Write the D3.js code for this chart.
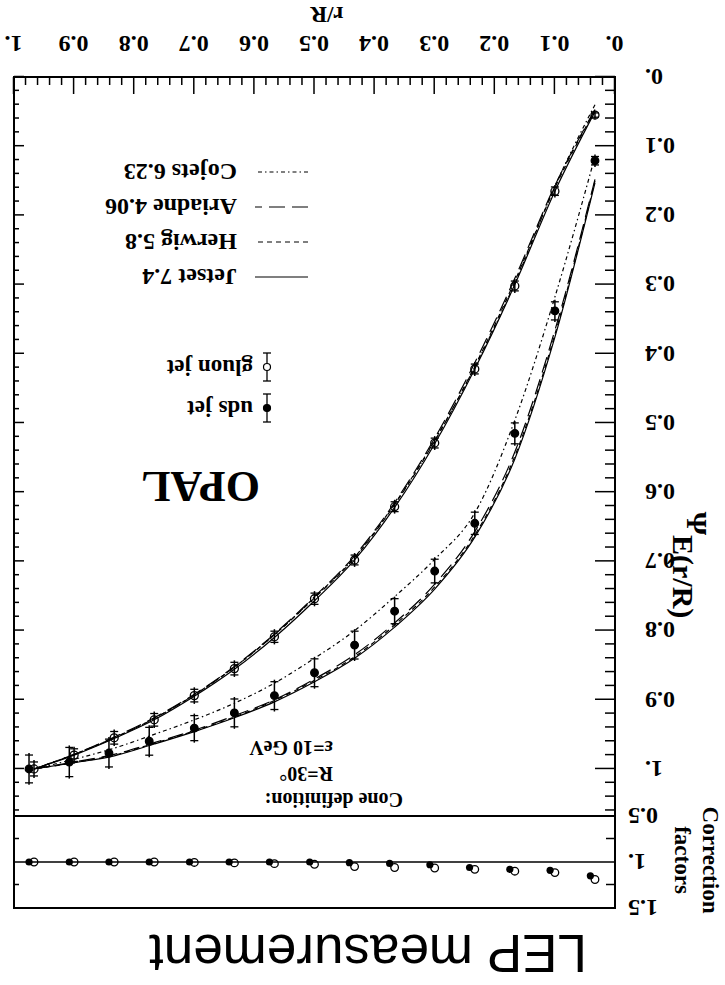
<!DOCTYPE html>
<html lang="en">
<head>
<meta charset="UTF-8">
<title>OPAL jet shape</title>
<script src="https://d3js.org/d3.v7.min.js"></script>
<style>
  body { margin: 0; background: #fff; }
  svg { display: block; }
  .axis path { display: none; }
  .axis line { stroke: #000; stroke-width: 1.5; }
  .axis text { font-family: "Liberation Serif", "Times New Roman", serif; font-size: 24px; font-weight: bold; fill: #000; }
  .lbl { font-family: "Liberation Serif", "Times New Roman", serif; font-weight: bold; fill: #000; }
</style>
</head>
<body>
<svg id="chart"></svg>
<script>
// r/R bin centres
const rBins = [0.0333, 0.1, 0.1667, 0.2333, 0.3, 0.3667, 0.4333, 0.5, 0.5667, 0.6333, 0.7, 0.7667, 0.8333, 0.9, 0.9667];
const udsR = [0.0333, 0.1, 0.1667, 0.2333, 0.3, 0.3667, 0.4333, 0.5, 0.5667, 0.6333, 0.7, 0.775, 0.842, 0.908, 0.975];
const corrUdsR = [0.041, 0.108, 0.175, 0.242, 0.308, 0.375, 0.442, 0.508, 0.575, 0.642, 0.708, 0.775, 0.842, 0.908, 0.975];

// measured Psi(r/R)
const gluonPsi = [0.055, 0.165, 0.302, 0.422, 0.529, 0.621, 0.698, 0.754, 0.809, 0.855, 0.894, 0.929, 0.955, 0.980, 1.000];
const gluonErr = [0.006, 0.009, 0.010, 0.010, 0.010, 0.010, 0.010, 0.011, 0.011, 0.012, 0.012, 0.012, 0.012, 0.012, 0.013];
const udsPsi = [0.121, 0.338, 0.515, 0.645, 0.714, 0.772, 0.821, 0.861, 0.894, 0.919, 0.941, 0.960, 0.977, 0.990, 1.000];
const udsErr = [0.009, 0.016, 0.018, 0.019, 0.020, 0.021, 0.023, 0.023, 0.023, 0.023, 0.021, 0.023, 0.023, 0.024, 0.023];

// Monte Carlo predictions
const jetsetGluon = [0.050, 0.165, 0.300, 0.422, 0.530, 0.622, 0.698, 0.757, 0.810, 0.856, 0.895, 0.929, 0.956, 0.980, 1.000];
const herwigGluon = [0.048, 0.160, 0.295, 0.418, 0.526, 0.618, 0.695, 0.753, 0.806, 0.853, 0.893, 0.927, 0.955, 0.979, 1.000];
const ariadneGluon = [0.047, 0.157, 0.291, 0.413, 0.522, 0.615, 0.692, 0.751, 0.805, 0.852, 0.892, 0.926, 0.954, 0.979, 1.000];
const cojetsGluon = [0.040, 0.158, 0.298, 0.419, 0.525, 0.617, 0.694, 0.752, 0.806, 0.853, 0.893, 0.927, 0.955, 0.979, 1.000];

const jetsetUds = [0.153, 0.376, 0.552, 0.665, 0.740, 0.795, 0.840, 0.874, 0.903, 0.926, 0.946, 0.964, 0.981, 0.991, 1.000];
const herwigUds = [0.150, 0.372, 0.548, 0.662, 0.737, 0.792, 0.838, 0.872, 0.901, 0.925, 0.945, 0.963, 0.980, 0.991, 1.000];
const ariadneUds = [0.148, 0.366, 0.542, 0.657, 0.733, 0.789, 0.835, 0.870, 0.900, 0.923, 0.944, 0.962, 0.979, 0.990, 1.000];
const cojetsUds = [0.115, 0.318, 0.496, 0.630, 0.697, 0.751, 0.800, 0.840, 0.876, 0.905, 0.929, 0.950, 0.970, 0.986, 1.000];

// detector correction factors
const corrGluon = [1.19, 1.115, 1.10, 1.08, 1.065, 1.06, 1.05, 1.025, 1.018, 1.01, 1.005, 1.0, 1.0, 1.0, 1.0];
const corrUds = [1.15, 1.09, 1.08, 1.06, 1.03, 1.015, 1.007, 1.0, 1.0, 1.0, 1.0, 1.0, 1.0, 1.0, 1.0];

const models = ["Jetset 7.4", "Herwig 5.8", "Ariadne 4.06", "Cojets 6.23"];
const modelDash = ["none", "5,4", "16,7", "4,3,1.5,3"];
const gluonCurves = [jetsetGluon, herwigGluon, ariadneGluon, cojetsGluon];
const udsCurves = [jetsetUds, herwigUds, ariadneUds, cojetsUds];

const xTicks = [0, 0.1, 0.2, 0.3, 0.4, 0.5, 0.6, 0.7, 0.8, 0.9, 1];
const corrTicks = [0.5, 1, 1.5];

// layout (drawn upright, whole page turned by 180 degrees like the scan)
const W = 725, H = 985;
const x = d3.scaleLinear().domain([0, 1]).range([110, 711]);
const yMain = d3.scaleLinear().domain([0, 1.068]).range([908, 169]);
const yCorr = d3.scaleLinear().domain([0.5, 1.5]).range([169, 77]);

const fmt = d => Math.abs(d) < 1e-9 ? "0." : Math.abs(d - 1) < 1e-9 ? "1." : d.toFixed(1);
const minor = (lo, hi, step, majors) => d3.range(Math.round((hi - lo) / step) + 1)
    .map(i => lo + i * step)
    .filter(v => !majors.some(m => Math.abs(m - v) < 1e-6));

const svg = d3.select("#chart").attr("width", W).attr("height", H);
const g = svg.append("g").attr("transform", `rotate(180 ${W / 2} ${H / 2})`);

// frame
g.append("rect")
    .attr("x", x(0)).attr("y", yCorr(1.5))
    .attr("width", x(1) - x(0)).attr("height", yMain(0) - yCorr(1.5))
    .attr("fill", "none").attr("stroke", "#000").attr("stroke-width", 2);
g.append("line")
    .attr("x1", x(0)).attr("x2", x(1)).attr("y1", yCorr(0.5)).attr("y2", yCorr(0.5))
    .attr("stroke", "#000").attr("stroke-width", 1.8);
g.append("line")
    .attr("x1", x(0)).attr("x2", x(1)).attr("y1", yCorr(1)).attr("y2", yCorr(1))
    .attr("stroke", "#000").attr("stroke-width", 1.5);

// x axis
g.append("g").attr("class", "axis")
    .attr("transform", `translate(0,${yMain(0)})`)
    .call(d3.axisBottom(x).tickValues(xTicks).tickSizeInner(-17).tickSizeOuter(0).tickPadding(24).tickFormat(fmt));
g.append("g").attr("class", "axis")
    .attr("transform", `translate(0,${yMain(0)})`)
    .call(d3.axisBottom(x).tickValues(minor(0, 1, 0.02, xTicks)).tickSize(-8).tickFormat(""));

// y axis, main panel
g.append("g").attr("class", "axis")
    .attr("transform", `translate(${x(0)},0)`)
    .call(d3.axisLeft(yMain).tickValues(xTicks).tickSizeInner(-20).tickSizeOuter(0).tickPadding(30).tickFormat(fmt));
g.append("g").attr("class", "axis")
    .attr("transform", `translate(${x(0)},0)`)
    .call(d3.axisLeft(yMain).tickValues(minor(0, 1.06, 0.02, xTicks)).tickSize(-10).tickFormat(""));
g.append("g").attr("class", "axis")
    .attr("transform", `translate(${x(1)},0)`)
    .call(d3.axisRight(yMain).tickValues(xTicks).tickSize(-10).tickFormat(""));
g.append("g").attr("class", "axis")
    .attr("transform", `translate(${x(1)},0)`)
    .call(d3.axisRight(yMain).tickValues(minor(0, 1.06, 0.02, xTicks)).tickSize(-5).tickFormat(""));

// y axis, correction panel
g.append("g").attr("class", "axis")
    .attr("transform", `translate(${x(0)},0)`)
    .call(d3.axisLeft(yCorr).tickValues(corrTicks).tickSizeInner(0).tickSizeOuter(0).tickPadding(13).tickFormat(fmt));
g.append("g").attr("class", "axis")
    .attr("transform", `translate(${x(0)},0)`)
    .call(d3.axisLeft(yCorr).tickValues([0.75, 1.25]).tickSize(-9).tickFormat(""));
g.append("g").attr("class", "axis")
    .attr("transform", `translate(${x(1)},0)`)
    .call(d3.axisRight(yCorr).tickValues([0.75, 1.25]).tickSize(-5).tickFormat(""));

// axis titles
g.append("text").attr("class", "lbl")
    .attr("x", 398).attr("y", 978).attr("text-anchor", "middle")
    .attr("font-size", 23).text("r/R");

const yt = g.append("text").attr("class", "lbl")
    .attr("transform", "translate(52,420) rotate(-90)")
    .attr("text-anchor", "middle").attr("font-size", 30);
yt.append("tspan").attr("dy", -14).text("\u03A8");
yt.append("tspan").attr("dy", 14).text("E");
yt.append("tspan").text("(r/R)");

const ct = g.append("text").attr("class", "lbl")
    .attr("transform", "translate(22,125) rotate(-90)")
    .attr("text-anchor", "middle").attr("font-size", 23);
ct.append("tspan").attr("x", 0).text("Correction");
ct.append("tspan").attr("x", 0).attr("dy", 28).text("factors");

g.append("text")
    .attr("x", 138).attr("y", 50)
    .attr("font-family", "'Liberation Sans', Arial, sans-serif")
    .attr("font-size", 53).attr("fill", "#000")
    .text("LEP measurement");

// model curves
const main = g.append("g");
const line = d3.line()
    .x(d => x(d[0]))
    .y(d => yMain(d[1]))
    .curve(d3.curveMonotoneX);

[gluonCurves, udsCurves].forEach(set => {
    set.forEach((vals, i) => {
        main.append("path")
            .datum(rBins.map((r, k) => [r, vals[k]]))
            .attr("d", line)
            .attr("fill", "none")
            .attr("stroke", "#000")
            .attr("stroke-width", 1.2)
            .attr("stroke-dasharray", modelDash[i]);
    });
});

// data points with error bars
function drawPoints(rs, vals, errs, filled) {
    const pts = main.append("g").selectAll("g")
        .data(rs.map((r, k) => ({ r, v: vals[k], e: errs[k] })))
        .join("g");
    pts.append("line")
        .attr("x1", d => x(d.r)).attr("x2", d => x(d.r))
        .attr("y1", d => yMain(d.v - d.e)).attr("y2", d => yMain(d.v + d.e))
        .attr("stroke", "#000").attr("stroke-width", 1.5);
    [-1, 1].forEach(s => {
        pts.append("line")
            .attr("x1", d => x(d.r) - 4).attr("x2", d => x(d.r) + 4)
            .attr("y1", d => yMain(d.v + s * d.e) + s * 2)
            .attr("y2", d => yMain(d.v + s * d.e) + s * 2)
            .attr("stroke", "#000").attr("stroke-width", 1.3);
    });
    pts.append("circle")
        .attr("cx", d => x(d.r)).attr("cy", d => yMain(d.v))
        .attr("r", filled ? 3.8 : 4)
        .attr("fill", filled ? "#000" : "none")
        .attr("stroke", "#000").attr("stroke-width", 1.3);
}
drawPoints(rBins, gluonPsi, gluonErr, false);
drawPoints(udsR, udsPsi, udsErr, true);

// correction factors
const corr = g.append("g");
corr.selectAll(".cu").data(corrUdsR.map((r, k) => [r, corrUds[k]])).join("circle")
    .attr("cx", d => x(d[0])).attr("cy", d => yCorr(d[1]))
    .attr("r", 3.6).attr("fill", "#000");
corr.selectAll(".cg").data(rBins.map((r, k) => [r, corrGluon[k]])).join("circle")
    .attr("cx", d => x(d[0])).attr("cy", d => yCorr(d[1]))
    .attr("r", 3.8).attr("fill", "none").attr("stroke", "#000").attr("stroke-width", 1.3);

// texts inside the plot
g.append("text").attr("class", "lbl")
    .attr("x", 465).attr("y", 513).attr("font-size", 44).text("OPAL");

const cone = g.append("text").attr("class", "lbl").attr("font-size", 20);
cone.append("tspan").attr("x", 322).attr("y", 192).text("Cone definition:");
cone.append("tspan").attr("x", 392).attr("y", 218).text("R=30\u00B0");
cone.append("tspan").attr("x", 392).attr("y", 244).text("\u03B5=10 GeV");

// legend: data
const legData = [
    { name: "gluon jet", y: 618, filled: false },
    { name: "uds jet", y: 577, filled: true }
];
legData.forEach(d => {
    const lg = g.append("g");
    lg.append("line").attr("x1", 458).attr("x2", 458).attr("y1", d.y - 14).attr("y2", d.y + 14)
        .attr("stroke", "#000").attr("stroke-width", 1.3);
    [-14, 14].forEach(o => lg.append("line")
        .attr("x1", 454).attr("x2", 462).attr("y1", d.y + o).attr("y2", d.y + o)
        .attr("stroke", "#000").attr("stroke-width", 1.3));
    lg.append("circle").attr("cx", 458).attr("cy", d.y).attr("r", 3.5)
        .attr("fill", d.filled ? "#000" : "#fff").attr("stroke", "#000").attr("stroke-width", 1.2);
    lg.append("text").attr("class", "lbl").attr("x", 472).attr("y", d.y + 7)
        .attr("font-size", 23).text(d.name);
});

// legend: models
const legY = [708, 743, 778, 813];
models.forEach((m, i) => {
    g.append("line").attr("x1", 417).attr("x2", 470).attr("y1", legY[i]).attr("y2", legY[i])
        .attr("stroke", "#000").attr("stroke-width", 1.2).attr("stroke-dasharray", modelDash[i]);
    g.append("text").attr("class", "lbl").attr("x", 488).attr("y", legY[i] + 8)
        .attr("font-size", 24).text(m);
});
</script>
</body>
</html>
